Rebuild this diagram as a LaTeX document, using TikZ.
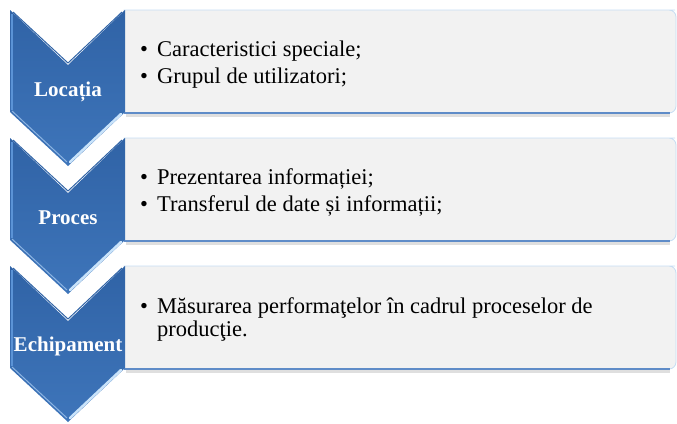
\documentclass[tikz,border=0pt]{standalone}
\usepackage{fontspec}
\setmainfont{Liberation Serif}
\definecolor{chevblue}{HTML}{3E75BA}
\definecolor{chevdark}{HTML}{3063A6}
\definecolor{chevlight}{HTML}{5B93D6}
\definecolor{chevhi}{HTML}{C9E3FA}
\definecolor{boxfill}{HTML}{F2F2F2}
\definecolor{boxtop}{HTML}{C6DDF3}
\definecolor{boxbot}{HTML}{5F8CC8}
\tikzset{
  chevshape/.style={top color=chevdark, bottom color=chevblue, draw=none},
  label/.style={text=white, font=\fontsize{21}{24}\selectfont\bfseries, inner sep=0pt, anchor=base},
  item/.style={text=black, font=\fontsize{22.5}{26}\selectfont, inner sep=0pt, anchor=base west},
  boxshape/.style={fill=boxfill, draw=boxtop, line width=0.8pt, rounded corners=7pt},
}
\newcommand{\bul}{\makebox[17pt][l]{\textbullet}}
\begin{document}
\begin{tikzpicture}[x=1pt,y=-1pt]
\useasboundingbox (0,0) rectangle (677,423);
% boxes
\foreach \t/\n in {10/1,138/2,266/3}{
  \fill[gray!25] (126,\t+104) -- (670,\t+104) -- (670,\t+107) -- (126,\t+107) -- cycle;
  \path[boxshape] (124,\t) -- (668,\t) [rounded corners=7pt] -- (676,\t) -- (676,\t+103) [sharp corners] -- (124,\t+103) -- cycle;
  \draw[boxbot, line width=1.2pt] (124,\t+103) -- (670,\t+103);
  \coordinate (box\n) at (124,\t);
}
% chevrons
\foreach \t/\n in {10/1,138/2,266/3}{
  \path[chevshape] (10,\t) -- (68,\t+55) -- (125,\t) -- (125,\t+102) -- (68,\t+156) -- (10,\t+102) -- cycle;
  \draw[chevlight, line width=2pt] (12,\t+4) -- (12,\t+100);
  \draw[chevlight!70!white, line width=1pt] (12,\t+101) -- (67,\t+152);
  \draw[chevhi, line width=2.5pt, line cap=round] (121,\t+104) -- (70,\t+152);
  \draw[chevdark, line width=1pt] (13,\t+2) -- (68,\t+53) -- (122,\t+2);
  \coordinate (chev\n) at (68,\t);
}
% labels
\node[label] (L1) at (68,96) {Locația};
\node[label] (L2) at (68,224) {Proces};
\node[label] (L3) at (68,351) {Echipament};
% texts
\node[item] (a1) at (140,56) {\bul Caracteristici speciale;};
\node[item] (a2) at (140,83) {\bul Grupul de utilizatori;};
\node[item] (b1) at (140,184) {\bul Prezentarea informației;};
\node[item] (b2) at (140,211) {\bul Transferul de date și informații;};
\node[item] (c1) at (140,313) {\bul Măsurarea performaţelor în cadrul proceselor de};
\node[item] (c2) at (157,336) {producţie.};
\end{tikzpicture}
\end{document}
